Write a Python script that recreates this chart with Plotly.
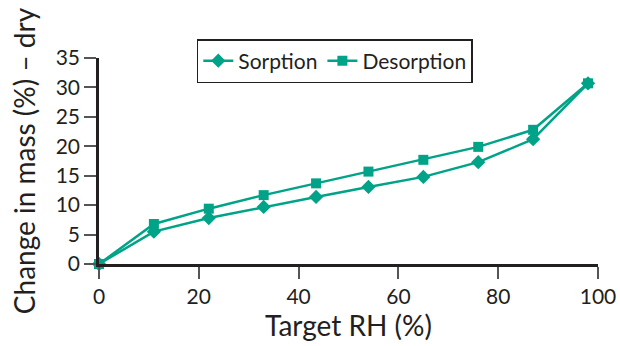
import plotly.graph_objects as go

rh = [0, 11, 22, 33, 43.5, 54, 65, 76, 87, 98]
sorption = [0, 5.5, 7.8, 9.7, 11.4, 13.1, 14.8, 17.3, 21.2, 30.7]
desorption = [0, 6.8, 9.4, 11.7, 13.7, 15.7, 17.7, 19.9, 22.8, 30.7]
x_ticks = [0, 20, 40, 60, 80, 100]
y_ticks = [0, 5, 10, 15, 20, 25, 30, 35]

color = "#00A387"
font = "Lato"

fig = go.Figure()
fig.add_trace(go.Scatter(x=rh, y=sorption, name="Sorption", mode="lines+markers",
                         line=dict(color=color, width=2.5),
                         marker=dict(symbol="diamond", size=11, color=color),
                         cliponaxis=False))
fig.add_trace(go.Scatter(x=rh, y=desorption, name="Desorption", mode="lines+markers",
                         line=dict(color=color, width=2.5),
                         marker=dict(symbol="square", size=10, color=color),
                         cliponaxis=False))

fig.update_layout(
    width=620, height=346,
    margin=dict(l=99, r=22, t=58, b=82),
    plot_bgcolor="white", paper_bgcolor="white",
    font=dict(family=font, color="#231f20", size=21),
    showlegend=True,
    legend=dict(orientation="h", x=0.196, y=1.092, xanchor="left", yanchor="top",
                bordercolor="#231f20", borderwidth=1.5, bgcolor="white",
                font=dict(size=21), itemwidth=30),
    xaxis=dict(range=[0, 100], tickvals=x_ticks, showgrid=False, zeroline=False,
               showline=True, linecolor="#231f20", linewidth=2.5,
               ticks="outside", ticklen=12, tickwidth=1.5, tickcolor="#555",
               tickfont=dict(size=21), automargin=False,
               title=dict(text="Target RH (%)", font=dict(size=28), standoff=5)),
    yaxis=dict(range=[0, 35], tickvals=y_ticks, showgrid=False, zeroline=False,
               showline=True, linecolor="#231f20", linewidth=2.5,
               ticks="outside", ticklen=12, tickwidth=1.5, tickcolor="#555",
               tickfont=dict(size=21), automargin=False,
               title=dict(text="Change in mass (%) – dry", font=dict(size=28), standoff=12)),
)

fig.write_html("out.html", config={"displayModeBar": False},
               post_script="document.body.style.margin='0';document.body.style.overflow='hidden';")
